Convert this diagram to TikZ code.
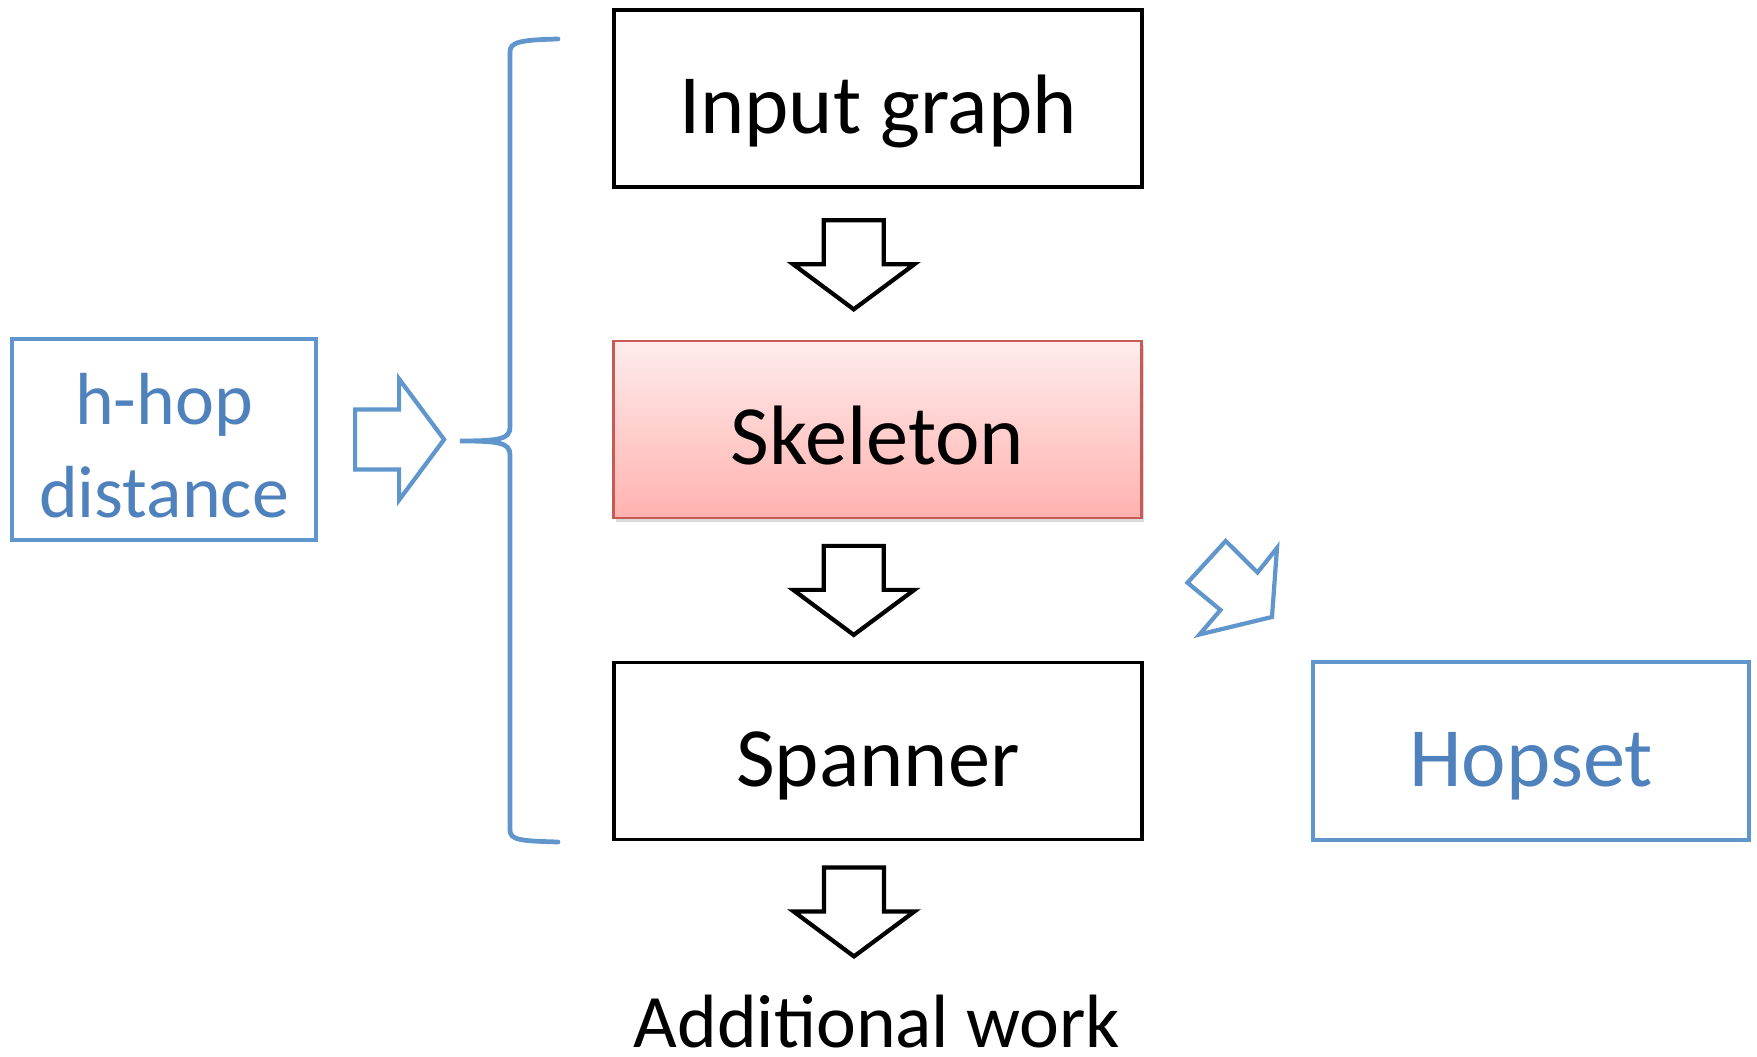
\documentclass[tikz,border=0pt]{standalone}
\usepackage{fontspec}
\setmainfont{Carlito}
\usepackage{tikz}
\usetikzlibrary{calc,positioning,shadows}
\usepackage{xcolor}
\definecolor{hopline}{RGB}{96,150,204}
\definecolor{hoptext}{RGB}{79,129,189}
\definecolor{skelline}{RGB}{200,90,85}
\definecolor{skeltop}{RGB}{255,236,236}
\definecolor{skelbot}{RGB}{255,178,175}

\begin{document}
\begin{tikzpicture}[
  blackbox/.style={draw=black,line width=1.1pt,minimum width=5.28cm,minimum height=1.77cm,inner sep=0pt,
    text height=22pt,text depth=2pt,font=\fontsize{24}{29}\selectfont},
  bluebox/.style={draw=hopline,line width=1.2pt,text=hoptext,inner sep=0pt,align=center},
  pics/blockarrow/.style={code={
    \draw[line join=miter,fill=white] (-0.44,0.30) -- (0,0.30) -- (0,0.605) -- (0.45,0) -- (0,-0.605) -- (0,-0.30) -- (-0.44,-0.30) -- cycle;}}
]
\useasboundingbox (0,0) rectangle (17.57,10.57);
\node[blackbox] (input) at (8.78,9.585) {Input graph};
\node[blackbox,draw=skelline,line width=0.7pt,top color=skeltop,bottom color=skelbot,
  drop shadow={shadow xshift=0.02cm,shadow yshift=-0.04cm,opacity=0.3}] (skel) at (8.775,6.275) {Skeleton};
\node[blackbox] (span) at (8.78,3.06) {Spanner};
\node[bluebox,minimum width=4.36cm,minimum height=1.78cm,text height=22pt,text depth=2pt,
  font=\fontsize{24}{29}\selectfont] (hop) at (15.31,3.06) {Hopset};
\node[bluebox,minimum width=3.04cm,minimum height=2.01cm,font=\fontsize{21}{26.5}\selectfont] (hhop) at (1.64,6.175) {};
\node[text=hoptext,align=center,font=\fontsize{21}{26.5}\selectfont] (hhoptext) at ($(hhop.center)+(0,-0.06)$) {h-hop\\distance};
\node[font=\fontsize{21.5}{26}\selectfont,anchor=base,inner sep=0pt] (addwork) at (8.77,0.09) {Additional work};

% block arrows down the chain
\pic[rotate=-90,line width=1.2pt] at ($(input.south)!0.5!(skel.north)+(-0.24,0)$) {blockarrow};
\pic[rotate=-90,line width=1.2pt] at ($(skel.south)!0.5!(span.north)+(-0.24,0)$) {blockarrow};
\pic[rotate=-90,line width=1.2pt] at ($(span.south)+(-0.24,-0.70)$) {blockarrow};
\pic[color=hopline,line width=1.2pt] at ($(hhop.east)+(0.81,0)$) {blockarrow};

% brace
\coordinate (tip) at (4.60,6.16);
\draw[hopline,line width=1.35pt,line cap=round] (5.58,10.18) .. controls (5.2,10.17) and (5.10,10.15) .. (5.10,10.05)
  -- (5.10,6.30) .. controls (5.10,6.18) and (5.0,6.16) .. (tip)
  .. controls (5.0,6.16) and (5.10,6.14) .. (5.10,6.02)
  -- (5.10,2.27) .. controls (5.10,2.17) and (5.2,2.16) .. (5.58,2.15);

% skewed arrow toward the hopset
\draw[hopline,line width=1.2pt,line join=miter] (11.875,4.743) -- (12.257,5.16) -- (12.575,4.845) -- (12.77,5.09)
  -- (12.72,4.40) -- (11.995,4.225) -- (12.205,4.47) -- cycle;
\end{tikzpicture}
\end{document}
